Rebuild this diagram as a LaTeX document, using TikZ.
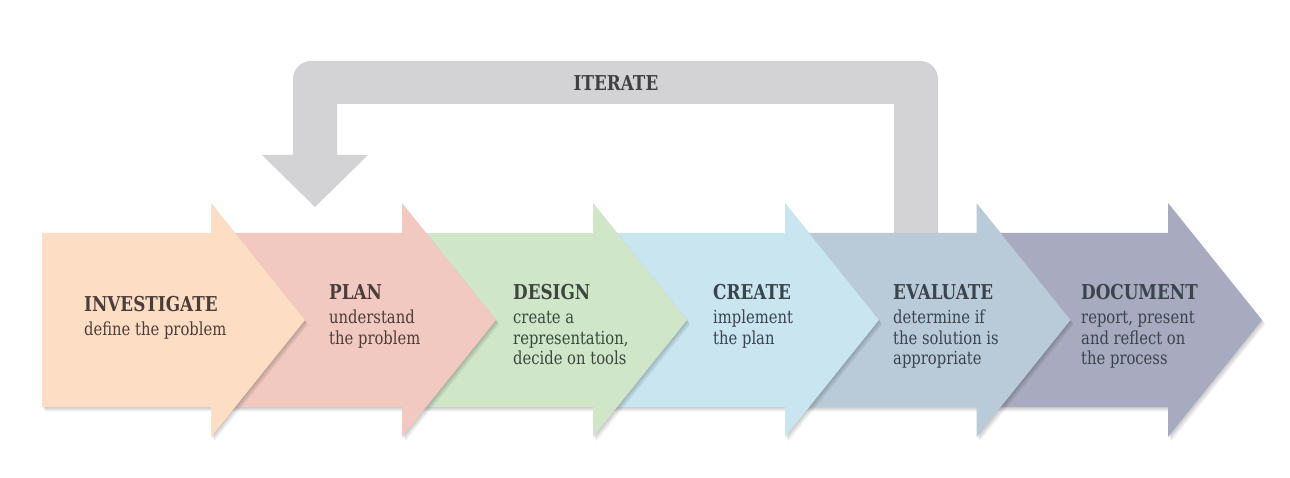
\documentclass[tikz,border=0pt]{standalone}
\usepackage{fontspec}
\setmainfont{DejaVu Serif}[FakeStretch=0.82]
\definecolor{cPeach}{RGB}{253,221,196}
\definecolor{cPink}{RGB}{242,201,192}
\definecolor{cGreen}{RGB}{207,230,201}
\definecolor{cLblue}{RGB}{201,229,240}
\definecolor{cBgray}{RGB}{185,203,217}
\definecolor{cSlate}{RGB}{168,171,191}
\definecolor{cIter}{RGB}{211,211,213}
\definecolor{tBrown}{RGB}{74,62,58}
\definecolor{tGreen}{RGB}{60,72,62}
\definecolor{tBlue}{RGB}{58,68,78}
\definecolor{tIter}{RGB}{64,64,66}
\newcommand\steptitle{\fontsize{20.5}{20.5}\selectfont\bfseries}
\tikzset{
  stepshadow/.style={fill=black, fill opacity=0.05},
  steptext/.style={anchor=base west, inner sep=0pt, font=\fontsize{18}{20.5}\selectfont}
}
\begin{document}
\begin{tikzpicture}[x=1pt,y=-1pt]
\path[use as bounding box, fill=white] (0,0) rectangle (1290,478);
% iterate loop
\fill[cIter] (938,233) -- (938,79) arc[start angle=0, end angle=-90, radius=18]
  -- (311,61) arc[start angle=-90, end angle=-180, radius=18]
  -- (293,155) -- (262,155) -- (315,207) -- (368,155) -- (337,155)
  -- (337,104) -- (894,104) -- (894,233) -- cycle;
\node[inner sep=0pt, anchor=base, text=tIter, font=\steptitle] (iter) at (616,91) {ITERATE};
% arrows, right to left, each with a soft shadow
\foreach \l/\h/\c in {976.5/1168/cSlate, 785/976.5/cBgray, 593/785/cLblue, 402/593/cGreen, 211/402/cPink, 42/211/cPeach}{
  \foreach \s in {1,2,3,4}{
    \fill[stepshadow, shift={(\s*0.8,\s*1.1)}] (\l,233) -- (\h,233) -- (\h,203) -- (\h+94,320) -- (\h,437) -- (\h,407) -- (\l,407) -- cycle;
  }
  \fill[\c] (\l,233) -- (\h,233) -- (\h,203) -- (\h+94,320) -- (\h,437) -- (\h,407) -- (\l,407) -- cycle;
}
\node[steptext, text=tBrown] (s1) at (84,312) {\begin{tabular}[t]{@{}l@{}}\steptitle INVESTIGATE\\[3pt] define the problem\end{tabular}};
\node[steptext, text=tBrown] (s2) at (329,299) {\begin{tabular}[t]{@{}l@{}}\steptitle PLAN\\[4pt] understand\\ the problem\end{tabular}};
\node[steptext, text=tGreen] (s3) at (513,299) {\begin{tabular}[t]{@{}l@{}}\steptitle DESIGN\\[4pt] create a\\ representation,\\ decide on tools\end{tabular}};
\node[steptext, text=tBlue] (s4) at (713,299) {\begin{tabular}[t]{@{}l@{}}\steptitle CREATE\\[4pt] implement\\ the plan\end{tabular}};
\node[steptext, text=tBlue] (s5) at (893,299) {\begin{tabular}[t]{@{}l@{}}\steptitle EVALUATE\\[4pt] determine if\\ the solution is\\ appropriate\end{tabular}};
\node[steptext, text=tBlue] (s6) at (1081,299) {\begin{tabular}[t]{@{}l@{}}\steptitle DOCUMENT\\[4pt] report, present\\ and reflect on\\ the process\end{tabular}};
\end{tikzpicture}
\end{document}
